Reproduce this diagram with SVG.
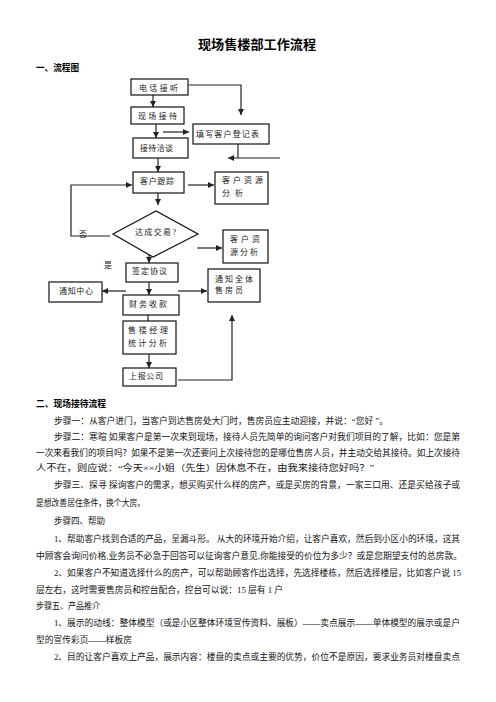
<svg xmlns="http://www.w3.org/2000/svg" width="496" height="702" viewBox="0 0 496 702">
<defs>
<style>
.bg{fill:#ffffff}
.box{fill:#ffffff;stroke:#111;stroke-width:1.2}
.ln{fill:none;stroke:#222;stroke-width:1.2}
.arr{fill:none;stroke:#222;stroke-width:1.2;marker-end:url(#ah)}
.t{font-family:"Liberation Serif","Noto Sans CJK SC",serif;font-size:8px;fill:#222}
.b{font-family:"Liberation Serif","Noto Sans CJK SC",serif;font-size:8.6px;fill:#111}
.h{font-family:"Liberation Sans","Noto Sans CJK SC",sans-serif;font-weight:bold;fill:#000}
</style>
<marker id="ah" markerUnits="userSpaceOnUse" markerWidth="6" markerHeight="6" refX="6" refY="3" orient="auto">
<path d="M0,0 L6,3 L0,6 z" fill="#222"/>
</marker>
</defs>
<rect class="bg" x="0" y="0" width="496" height="702"/>

<text class="h" x="198" y="49" font-size="13" textLength="118" lengthAdjust="spacingAndGlyphs">现场售楼部工作流程</text>
<text class="h" x="36" y="71" font-size="9" textLength="43" lengthAdjust="spacingAndGlyphs">一、流程图</text>

<g id="connectors">
<polyline class="arr" points="189,85 241,85 241,115"/>
<line class="arr" x1="153" y1="95" x2="153" y2="107"/>
<line class="arr" x1="156" y1="124" x2="156" y2="138"/>
<line class="arr" x1="163" y1="132" x2="189" y2="132"/>
<polyline class="ln" points="238,144 238,158"/>
<line class="arr" x1="280" y1="158" x2="228" y2="158"/>
<line class="arr" x1="158" y1="158" x2="158" y2="172"/>
<polyline class="arr" points="110,236 71,236 71,185 132,185"/>
<line class="arr" x1="188" y1="185" x2="214" y2="185"/>
<line class="arr" x1="158" y1="193" x2="158" y2="205"/>
<line class="arr" x1="197" y1="248" x2="222" y2="248"/>
<line class="arr" x1="149" y1="250" x2="149" y2="263"/>
<line class="arr" x1="149" y1="282" x2="149" y2="295"/>
<line class="arr" x1="126" y1="291" x2="102" y2="291"/>
<line class="arr" x1="178" y1="291" x2="207" y2="291"/>
<line class="ln" x1="148" y1="315" x2="148" y2="321"/>
<line class="arr" x1="149" y1="354" x2="149" y2="368"/>
<polyline class="arr" points="178,380 232,380 232,315"/>
</g>

<g id="n-dianhua">
<rect class="box" x="131" y="79" width="57" height="16"/>
<text class="t" x="139" y="90.5" textLength="39" lengthAdjust="spacing">电话接听</text>
</g>
<g id="n-xianchang">
<rect class="box" x="131" y="107" width="53" height="17"/>
<text class="t" x="138" y="118.5" textLength="39" lengthAdjust="spacing">现场接待</text>
</g>
<g id="n-tianxie">
<rect class="box" x="193" y="124" width="76" height="20"/>
<text class="t" x="196" y="136.5" textLength="63" lengthAdjust="spacing">填写客户登记表</text>
</g>
<g id="n-jiedai">
<rect class="box" x="133" y="138" width="55" height="20"/>
<text class="t" x="140" y="151" textLength="33" lengthAdjust="spacing">接待洽谈</text>
</g>
<g id="n-genzong">
<rect class="box" x="133" y="172" width="51" height="21"/>
<text class="t" x="140" y="184" textLength="34" lengthAdjust="spacing">客户跟踪</text>
</g>
<g id="n-fenxi1">
<rect class="box" x="215" y="172" width="53" height="32"/>
<text class="t" x="222" y="183" textLength="41" lengthAdjust="spacing">客户资源</text>
<text class="t" x="222" y="196" textLength="21" lengthAdjust="spacing">分析</text>
</g>
<g id="n-jiaoyi">
<polygon class="box" points="113,234 156,211 198,234 153,257"/>
<text class="t" x="135" y="235" textLength="41" lengthAdjust="spacing">达成交易?</text>
</g>
<text class="t" x="79" y="237">否</text>
<text class="t" x="104" y="268">是</text>
<g id="n-fenxi2">
<rect class="box" x="223" y="230" width="45" height="33"/>
<text class="t" x="230" y="242" textLength="30" lengthAdjust="spacing">客户资</text>
<text class="t" x="230" y="255" textLength="28" lengthAdjust="spacing">源分析</text>
</g>
<g id="n-qianding">
<rect class="box" x="126" y="263" width="52" height="19"/>
<text class="t" x="132" y="274" textLength="35" lengthAdjust="spacing">签定协议</text>
</g>
<g id="n-tongzhi">
<rect class="box" x="49" y="282" width="53" height="20"/>
<text class="t" x="59" y="294" textLength="34" lengthAdjust="spacing">通知中心</text>
</g>
<g id="n-quanti">
<rect class="box" x="208" y="269" width="52" height="33"/>
<text class="t" x="215" y="282" textLength="38" lengthAdjust="spacing">通知全体</text>
<text class="t" x="215" y="293" textLength="28" lengthAdjust="spacing">售房员</text>
</g>
<g id="n-caiwu">
<rect class="box" x="123" y="295" width="56" height="20"/>
<text class="t" x="129" y="307" textLength="38" lengthAdjust="spacing">财务收款</text>
</g>
<g id="n-jingli">
<rect class="box" x="123" y="321" width="53" height="33"/>
<text class="t" x="128" y="333" textLength="40" lengthAdjust="spacing">售楼经理</text>
<text class="t" x="128" y="346" textLength="39" lengthAdjust="spacing">统计分析</text>
</g>
<g id="n-shangbao">
<rect class="box" x="123" y="368" width="53" height="18"/>
<text class="t" x="129" y="379" textLength="34" lengthAdjust="spacing">上报公司</text>
</g>

<text class="h" x="36" y="407" font-size="9" textLength="70" lengthAdjust="spacingAndGlyphs">二、现场接待流程</text>

<g id="body">
<text class="b" x="54" y="424" textLength="334" lengthAdjust="spacingAndGlyphs">步骤一：从客户进门，当客户到达售房处大门时，售房员应主动迎接，并说：“您好 ”。</text>
<text class="b" x="54" y="440" textLength="406" lengthAdjust="spacingAndGlyphs">步骤二：寒暄 如果客户是第一次来到现场，接待人员先简单的询问客户对我们项目的了解，比如：您是第</text>
<text class="b" x="36" y="456" textLength="424" lengthAdjust="spacingAndGlyphs">一次来看我们的项目吗？如果不是第一次还要问上次接待您的是哪位售房人员，并主动交给其接待。如上次接待</text>
<text class="b" x="36" y="471" textLength="338" lengthAdjust="spacingAndGlyphs">人不在，则应说：“今天××小姐（先生）因休息不在，由我来接待您好吗？”</text>
<text class="b" x="54" y="488" textLength="406" lengthAdjust="spacingAndGlyphs">步骤三、探寻 探询客户的需求，想买购买什么样的房产，或是买房的背景，一家三口用、还是买给孩子或</text>
<text class="b" x="36" y="506" textLength="109" lengthAdjust="spacingAndGlyphs">是想改善居住条件，换个大房。</text>
<text class="b" x="54" y="524" textLength="51" lengthAdjust="spacingAndGlyphs">步骤四、帮助</text>
<text class="b" x="54" y="542" textLength="406" lengthAdjust="spacingAndGlyphs">1、帮助客户找到合适的产品，呈漏斗形。 从大的环境开始介绍，让客户喜欢，然后到小区小的环境，这其</text>
<text class="b" x="36" y="559" textLength="426" lengthAdjust="spacingAndGlyphs">中顾客会询问价格,业务员不必急于回答可以征询客户意见,你能接受的价位为多少？或是您期望支付的总房款。</text>
<text class="b" x="54" y="576" textLength="407" lengthAdjust="spacingAndGlyphs">2、如果客户不知道选择什么的房产，可以帮助顾客作出选择，先选择楼栋，然后选择楼层，比如客户说 15</text>
<text class="b" x="36" y="593" textLength="247" lengthAdjust="spacingAndGlyphs">层左右，这时需要售房员和控台配合，控台可以说：15 层有 1 户</text>
<text class="b" x="36" y="609" textLength="64" lengthAdjust="spacingAndGlyphs">步骤五、产品推介</text>
<text class="b" x="54" y="626" textLength="406" lengthAdjust="spacingAndGlyphs">1、展示的动线：整体模型（或是小区整体环境宣传资料、展板）——卖点展示——单体模型的展示或是户</text>
<text class="b" x="36" y="643" textLength="96" lengthAdjust="spacingAndGlyphs">型的宣传彩页——样板房</text>
<text class="b" x="54" y="660" textLength="406" lengthAdjust="spacingAndGlyphs">2、目的让客户喜欢上产品，展示内容：楼盘的卖点或主要的优势，价位不是原因，要求业务员对楼盘卖点</text>
</g>
</svg>
